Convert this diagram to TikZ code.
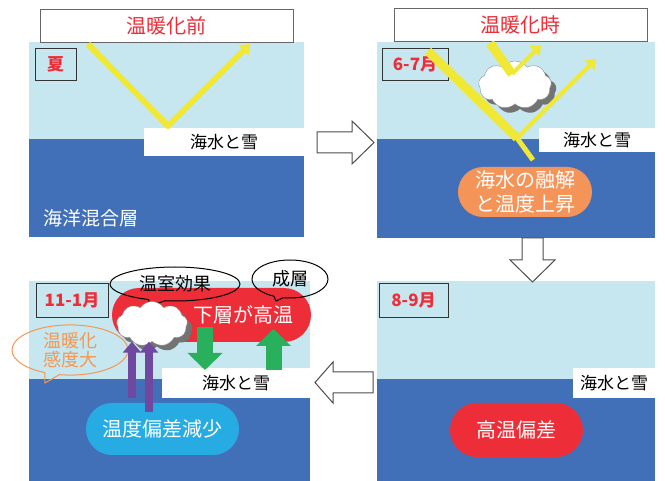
\documentclass[tikz,border=0pt]{standalone}
\usepackage{fontspec}
\setmainfont{Noto Sans CJK JP}
\usepackage{tikz}
\usetikzlibrary{shapes.misc,shapes.symbols,shapes.callouts,arrows.meta,shadows}

\definecolor{sky}{RGB}{198,231,239}
\definecolor{ocean}{RGB}{66,112,184}
\definecolor{warmred}{RGB}{237,46,56}
\definecolor{meltorange}{RGB}{245,148,88}
\definecolor{bubbleorange}{RGB}{247,150,80}
\definecolor{coolblue}{RGB}{38,172,226}
\definecolor{fluxgreen}{RGB}{40,176,92}
\definecolor{irpurple}{RGB}{112,72,160}
\definecolor{sunray}{RGB}{240,232,52}

\begin{document}
\begin{tikzpicture}[x=1pt,y=-1pt,
	title/.style={rectangle,draw=black!60,fill=white,minimum width=253pt,minimum height=33pt,text=warmred,font=\fontsize{20}{23}\selectfont},
	month/.style={rectangle,draw=black!80,line width=0.8pt,inner sep=0pt,text=warmred,font=\bfseries\fontsize{17}{20}\selectfont},
	ice/.style={rectangle,fill=white,inner sep=0pt,font=\fontsize{17}{20}\selectfont},
	pill/.style={rounded rectangle,text=white,inner sep=0pt,align=center,font=\fontsize{20}{24}\selectfont},
	ray/.style={draw=sunray,line width=6pt,line join=round},
	raytip/.style={-{Triangle[length=9pt,width=14pt]}},
	flux/.style={draw=fluxgreen,line width=16pt,-{Triangle[length=17pt,width=34pt]}},
	ir/.style={draw=irpurple,line width=8pt,-{Triangle[length=11pt,width=18pt]}},
	blockarrow/.style={draw=black!70,fill=white,line width=1pt,line join=miter},
	puff/.style={cloud,cloud puffs=9,cloud puff arc=110,cloud ignores aspect,draw=black!45,fill=white,inner sep=0pt,
		drop shadow={shadow xshift=5pt,shadow yshift=-5pt,fill=black!55,opacity=1}},
	bubble/.style={ellipse callout,draw=black,line width=1pt,inner sep=0pt,font=\fontsize{18}{21}\selectfont},
	]
	\useasboundingbox (0,0) rectangle (665,481);

	% before warming, summer
	\fill[sky] (29,42) rectangle (304,237);
	\fill[ocean] (29,139) rectangle (304,237);
	\node[ice,minimum width=160pt,minimum height=28pt] (ice1) at (224,142) {海水と雪};
	\node[title] (title1) at (166.5,25.5) {温暖化前};
	\node[month,minimum width=41pt,minimum height=32pt] (m1) at (55.5,64) {夏};
	\node[text=white,anchor=west,font=\fontsize{19}{22}\selectfont] (layer) at (40,218) {海洋混合層};
	\coordinate (sun1) at (88,44);
	\coordinate (hit1) at (168,126);
	\coordinate (out1) at (250,44);
	\draw[ray,raytip] (sun1) -- (hit1) -- (out1);

	% during warming, June-July
	\fill[sky] (377,42) rectangle (655,238);
	\fill[ocean] (377,139) rectangle (655,238);
	\node[ice,minimum width=116pt,minimum height=24pt] (ice2) at (597,140) {海水と雪};
	\node[title] (title2) at (520.5,25) {温暖化時};
	\node[month,minimum width=66pt,minimum height=32pt] (m2) at (415,64) {6-7月};
	\node[puff,minimum width=73pt,minimum height=48pt] (cloud2) at (515,85) {};
	\coordinate (sun2) at (428,51);
	\coordinate (hit2) at (517,138);
	\coordinate (sink2) at (533,160);
	\coordinate (out2) at (596,59);
	\coordinate (sun3) at (490,43);
	\coordinate (top2) at (512,74);
	\coordinate (back2) at (541,45);
	\draw[ray,line width=9pt] (sun2) -- (hit2);
	\draw[ray,line width=5pt] (hit2) -- (sink2);
	\draw[ray,line width=4pt,raytip] (hit2) -- (out2);
	\draw[ray,line width=9pt] (sun3) -- (top2);
	\draw[ray,line width=4pt,raytip] (top2) -- (back2);
	\node[pill,fill=meltorange,minimum width=134pt,minimum height=50pt] (melt) at (525,192) {海水の融解\\と温度上昇};

	% August-September
	\fill[sky] (377,281) rectangle (655,481);
	\fill[ocean] (377,379) rectangle (655,481);
	\node[ice,minimum width=82pt,minimum height=30pt] (ice4) at (614,383) {海水と雪};
	\node[month,minimum width=69pt,minimum height=34pt] (m4) at (413.5,300) {8-9月};
	\node[pill,fill=warmred,minimum width=133pt,minimum height=54pt] (anom) at (516.5,430) {高温偏差};

	% November-January
	\fill[sky] (29,281) rectangle (310,481);
	\fill[ocean] (29,379) rectangle (310,481);
	\node[ice,minimum width=148pt,minimum height=30pt] (ice3) at (236,383) {海水と雪};
	\node[month,minimum width=72pt,minimum height=34pt] (m3) at (72,300) {11-1月};
	\node[pill,fill=warmred,minimum width=199pt,minimum height=54pt] (lower) at (211.5,315) {};
	\node[text=white,font=\fontsize{20}{24}\selectfont] (lowertext) at (243,315) {下層が高温};
	\node[bubble,minimum width=130pt,minimum height=34pt,callout absolute pointer={(150,306)}] (green) at (175,284) {温室効果};
	\node[bubble,minimum width=76pt,minimum height=38pt,callout absolute pointer={(276,301)}] (strat) at (290,279) {成層};
	\node[bubble,draw=bubbleorange,text=bubbleorange,align=center,font=\fontsize{18}{19}\selectfont,
		minimum width=116pt,minimum height=48pt,callout absolute pointer={(45,383)}] (sens) at (70,350) {温暖化\\感度大};
	\node[puff,minimum width=71pt,minimum height=45pt] (cloud3) at (152,324) {};
	\node[pill,fill=coolblue,minimum width=153pt,minimum height=52pt] (cool) at (162.5,429) {温度偏差減少};
	\coordinate (dn1) at (205,327);
	\coordinate (dn2) at (205,370);
	\coordinate (up1) at (273.5,370);
	\coordinate (up2) at (273.5,329);
	\draw[flux] (dn1) -- (dn2);
	\draw[flux] (up1) -- (up2);
	\coordinate (ir1) at (132,398);
	\coordinate (ir2) at (149,412);
	\draw[ir] (ir1) -- (ir1 |- cloud3.south);
	\draw[ir] (ir2) -- (ir2 |- cloud3.south);

	% steps between the panels
	\draw[blockarrow] (317,132) -- (352,132) -- (352,121) -- (374,142.5) -- (352,164) -- (352,153) -- (317,153) -- cycle;
	\draw[blockarrow] (522,238) -- (543,238) -- (543,260) -- (555,260) -- (532.5,282) -- (510,260) -- (522,260) -- cycle;
	\draw[blockarrow] (373,372) -- (333,372) -- (333,362) -- (315,382.5) -- (333,403) -- (333,393) -- (373,393) -- cycle;
\end{tikzpicture}
\end{document}
